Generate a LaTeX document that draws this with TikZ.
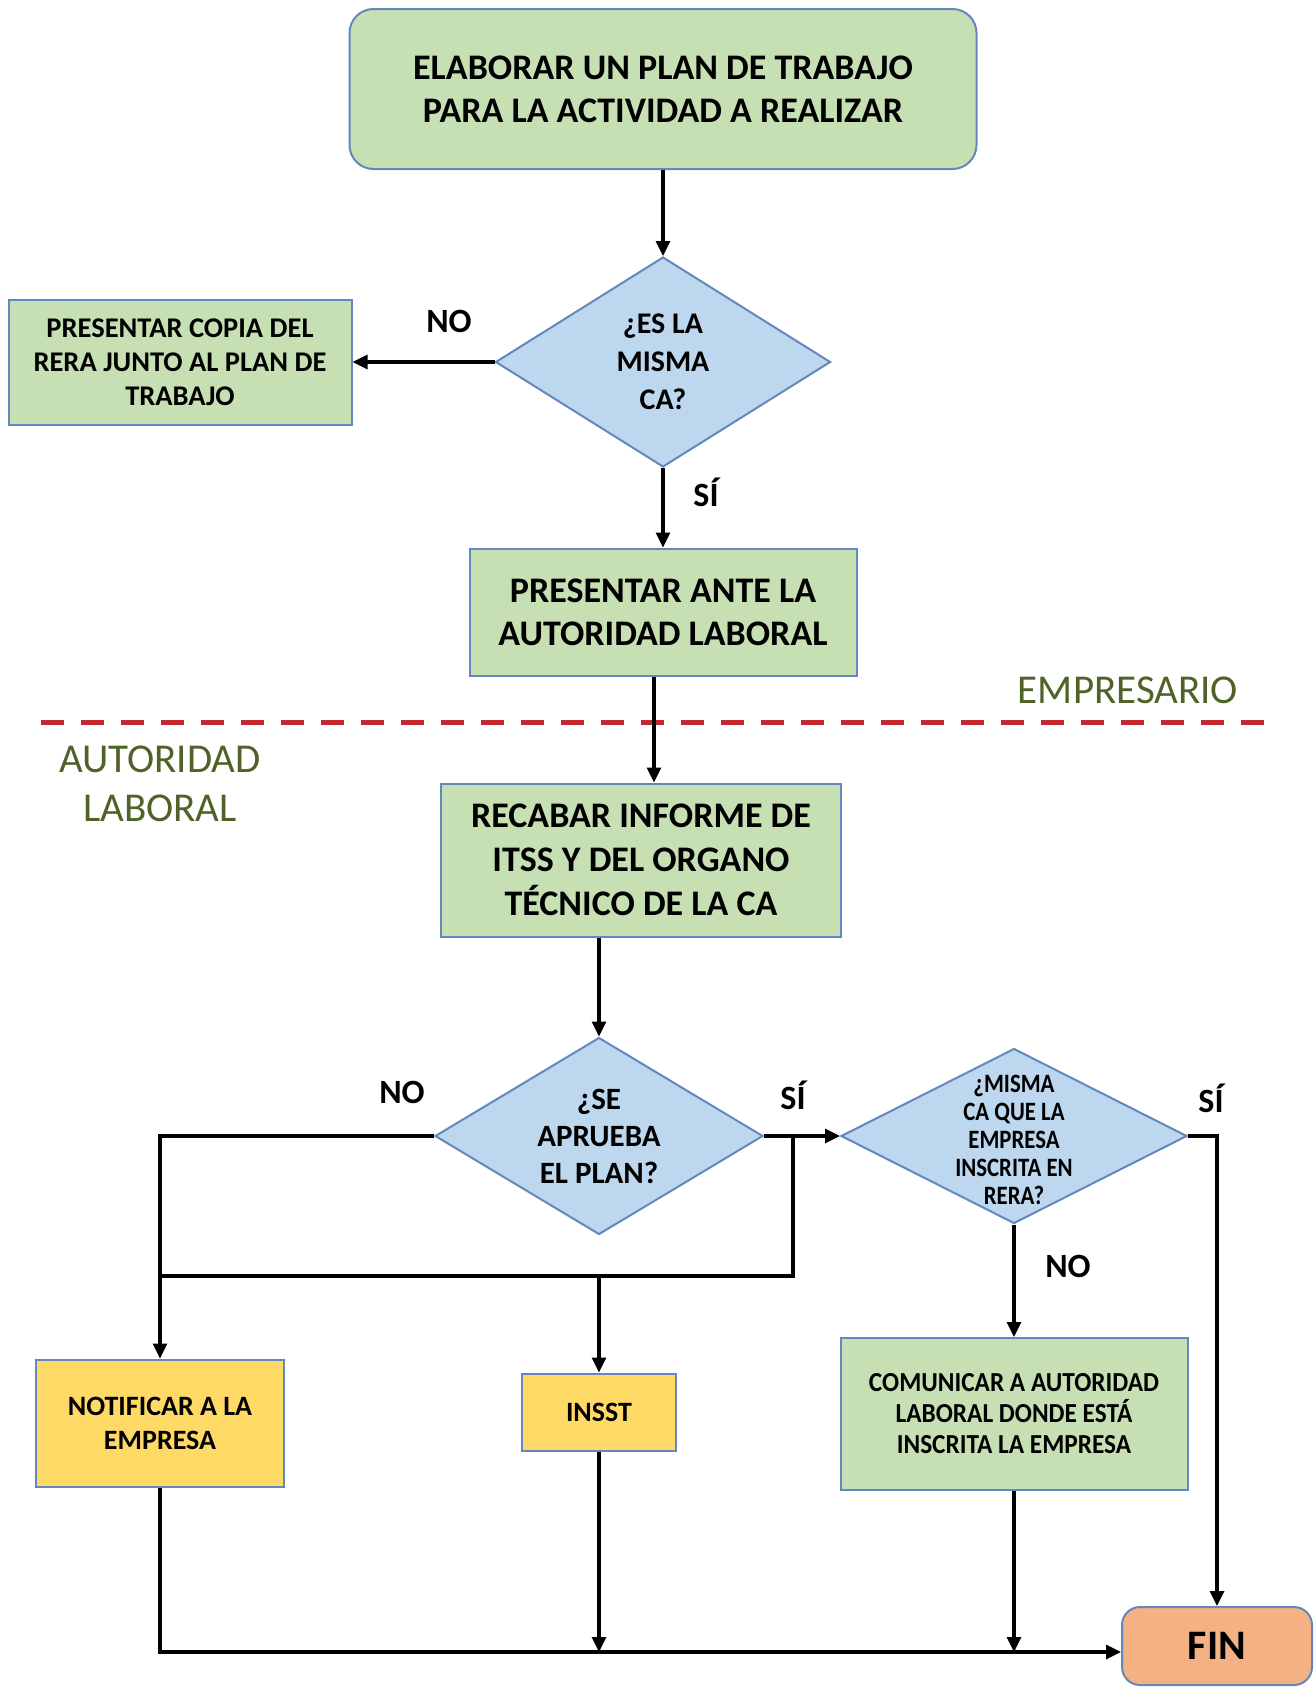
\documentclass[tikz,border=0pt]{standalone}
\usepackage{fontspec}
\setmainfont{Carlito}
\newfontfamily\narrowfont[FakeStretch=0.86]{Carlito}
\newfontfamily\widenarrowfont[FakeStretch=0.92]{Carlito}
\usetikzlibrary{shapes.geometric,arrows.meta}

\definecolor{boxgreen}{RGB}{198,224,180}
\definecolor{diablue}{RGB}{189,215,238}
\definecolor{boxyellow}{RGB}{255,217,102}
\definecolor{finorange}{RGB}{244,177,131}
\definecolor{edgeblue}{RGB}{100,135,190}
\definecolor{roletext}{RGB}{79,98,40}
\definecolor{splitred}{RGB}{192,40,45}

\tikzset{
  x=1pt, y=-1pt,
  box/.style={draw=edgeblue, line width=2pt, fill=boxgreen, align=center,
    inner sep=0pt, font=\bfseries},
  yellowbox/.style={box, fill=boxyellow},
  roundbox/.style={box, rounded corners=24pt},
  dia/.style={diamond, draw=edgeblue, line width=2pt, fill=diablue,
    inner sep=0pt, aspect=1.6},
  diatext/.style={align=center, font=\bfseries, inner sep=0pt},
  flow/.style={line width=3.2pt, black},
  arr/.style={flow, -{Triangle[length=15pt,width=14pt]}},
  answer/.style={font=\bfseries\fontsize{34}{40}\selectfont},
  role/.style={text=roletext, align=center},
}

\begin{document}
\begin{tikzpicture}
\path[use as bounding box, fill=white] (0,0) rectangle (1316,1695);

% ---- employer side ----
\node[roundbox, minimum width=627pt, minimum height=160pt,
      font=\bfseries\fontsize{36}{43}\selectfont] (plan) at (663,89)
  {ELABORAR UN PLAN DE TRABAJO\\PARA LA ACTIVIDAD A REALIZAR};

\node[dia, minimum width=335pt, minimum height=210pt] (same) at (663,362) {};
\node[diatext, font=\bfseries\fontsize{30}{38}\selectfont] (sametxt) at (same)
  {¿ES LA\\MISMA\\CA?};

\node[box, minimum width=343pt, minimum height=125pt,
      font=\bfseries\fontsize{28.5}{34}\selectfont] (copy) at (180,362)
  {PRESENTAR COPIA DEL\\RERA JUNTO AL PLAN DE\\TRABAJO};

\node[box, minimum width=387pt, minimum height=127pt,
      font=\bfseries\fontsize{36}{43}\selectfont] (submit) at (663,612)
  {PRESENTAR ANTE LA\\AUTORIDAD LABORAL};

% ---- separator between roles ----
\coordinate (sepL) at (41,722);
\coordinate (sepR) at (1271,722);
\draw[splitred, line width=5pt, dash pattern=on 23pt off 17pt] (sepL) -- (sepR);
\node[role, font=\fontsize{41}{48}\selectfont] (emp) at (1128,690) {EMPRESARIO};
\node[role, font=\fontsize{41}{49}\selectfont] (aut) at (160,784) {AUTORIDAD\\LABORAL};

% ---- labour authority side ----
\node[box, minimum width=400pt, minimum height=153pt,
      font=\bfseries\fontsize{36}{44}\selectfont] (report) at (641,860)
  {RECABAR INFORME DE\\ITSS Y DEL ORGANO\\TÉCNICO DE LA CA};

\node[dia, minimum width=328pt, minimum height=197pt] (approve) at (599,1136) {};
\node[diatext, font=\bfseries\fontsize{31}{37}\selectfont] (approvetxt) at (approve)
  {¿SE\\APRUEBA\\EL PLAN?};

\node[dia, minimum width=346pt, minimum height=175pt] (region) at (1014,1136) {};
\node[diatext, font=\narrowfont\bfseries\fontsize{26.5}{28}\selectfont] (regiontxt)
  at ([yshift=-4pt]region)
  {¿MISMA\\CA QUE LA\\EMPRESA\\INSCRITA EN\\RERA?};

\node[yellowbox, minimum width=248pt, minimum height=127pt,
      font=\bfseries\fontsize{28}{34}\selectfont] (notify) at (160,1423)
  {NOTIFICAR A LA\\EMPRESA};

\node[yellowbox, minimum width=154pt, minimum height=77pt,
      font=\bfseries\fontsize{28}{32}\selectfont] (insst) at (599,1412) {INSST};

\node[box, minimum width=347pt, minimum height=152pt,
      font=\widenarrowfont\bfseries\fontsize{27.5}{31}\selectfont] (inform) at (1014,1414)
  {COMUNICAR A AUTORIDAD\\LABORAL DONDE ESTÁ\\INSCRITA LA EMPRESA};

\node[roundbox, fill=finorange, minimum width=190pt, minimum height=78pt,
      rounded corners=18pt, font=\bfseries\fontsize{42}{48}\selectfont] (fin) at (1217,1646)
  {\raisebox{-6pt}{FIN}};

% ---- junction points ----
\coordinate (yes) at (793,1136);
\coordinate (fork) at (793,1276);
\coordinate (forkL) at (160,1276);
\coordinate (noturn) at (160,1136);
\coordinate (bottom) at ([yshift=-6pt]fin.west);

% ---- connectors ----
\draw[arr] (plan.south) -- (same.north);
\draw[arr] (same.west) -- (copy.east);
\draw[arr] (same.south) -- (submit.north);
\draw[arr] ([xshift=-9pt]submit.south) -- ([xshift=-9pt]submit.south |- report.north);
\draw[arr] (approve.north |- report.south) -- (approve.north);

\draw[arr] (approve.east) -- (region.west);
\draw[flow] (yes) -- (fork) -- (forkL);
\draw[arr] (approve.west) -- (noturn) -- (notify.north);
\draw[arr] (insst.north |- fork) -- (insst.north);

\draw[arr] (region.east) -- (fin.north |- region.east) -- (fin.north);
\draw[arr] (region.south) -- (inform.north);

\draw[arr] (notify.south) -- (notify.south |- bottom) -- (bottom);
\draw[arr] (insst.south) -- (insst.south |- bottom);
\draw[arr] (inform.south) -- (inform.south |- bottom);

% ---- branch labels ----
\node[answer] (no1) at (449,321) {NO};
\node[answer] (si1) at (706,492) {SÍ};
\node[answer] (no2) at (402,1092) {NO};
\node[answer] (si2) at (793,1095) {SÍ};
\node[answer] (si3) at (1211,1098) {SÍ};
\node[answer] (no3) at (1068,1266) {NO};
\end{tikzpicture}
\end{document}
